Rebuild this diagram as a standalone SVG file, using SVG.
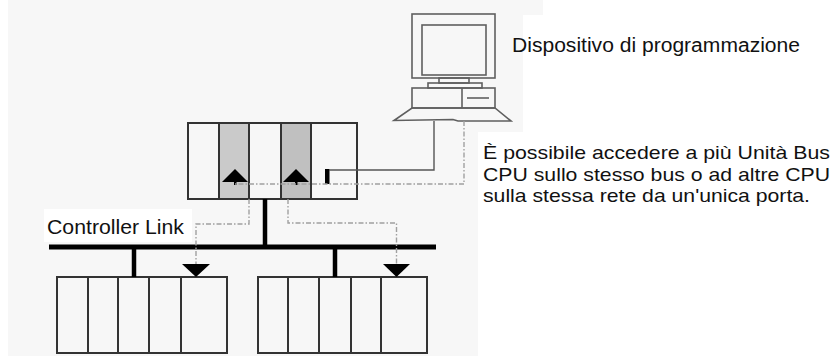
<svg xmlns="http://www.w3.org/2000/svg" width="832" height="361" viewBox="0 0 832 361">
  <style>
    .txt { font-family: "Liberation Sans", Arial, sans-serif; font-size: 20px; fill: #111; }
    .note { font-family: "Liberation Sans", Arial, sans-serif; font-size: 19px; fill: #111; }
    .pc { fill: none; stroke: #5f5f5f; stroke-width: 1.6; }
    .rack { fill: none; stroke: #333; stroke-width: 2; }
    .slot { stroke: #333; stroke-width: 2; }
    .solid { fill: none; stroke: #555; stroke-width: 1.4; }
    .dash { fill: none; stroke: #a0a0a0; stroke-width: 1.4; stroke-dasharray: 5 2 1.5 2; }
    .bus { fill: none; stroke: #000; stroke-width: 5; }
    .drop { fill: none; stroke: #000; stroke-width: 4.5; }
    .arrow { fill: #000; }
  </style>

  <!-- paper -->
  <rect x="0" y="0" width="832" height="361" fill="#ffffff"/>
  <g id="backdrop" fill="#f7f7f7">
    <rect x="8" y="0" width="535" height="15"/>
    <rect x="8" y="15" width="515" height="117"/>
    <rect x="8" y="132" width="470" height="224"/>
  </g>

  <!-- programming device (PC) -->
  <g id="pc">
    <rect class="pc" x="412" y="14" width="83" height="64"/>
    <rect class="pc" x="422" y="25" width="64" height="50"/>
    <rect class="pc" x="439" y="78" width="30" height="5"/>
    <rect class="pc" x="428" y="83" width="54" height="5" stroke="#333" stroke-width="1.8"/>
    <rect class="pc" x="412" y="88" width="83" height="20"/>
    <line class="pc" x1="462" y1="88" x2="462" y2="108"/>
    <line class="pc" x1="467" y1="98" x2="489" y2="98"/>
    <path class="pc" d="M412,108 L495,108 L511,121 L458,121 L453,119.5 L394,120.5 Z"/>
  </g>

  <!-- CPU rack with two Bus Units -->
  <g id="cpu-rack">
    <rect x="219" y="123" width="30" height="76" fill="#cacaca"/>
    <rect x="281" y="123" width="30" height="76" fill="#c0c0c0"/>
    <rect class="rack" x="188" y="123" width="169" height="76"/>
    <line class="slot" x1="219" y1="123" x2="219" y2="199"/>
    <line class="slot" x1="249" y1="123" x2="249" y2="199"/>
    <line class="slot" x1="281" y1="123" x2="281" y2="199"/>
    <line class="slot" x1="311" y1="123" x2="311" y2="199"/>
    <polygon class="arrow" points="222,182 248,182 235,169"/>
    <rect class="arrow" x="234" y="181" width="2.5" height="4"/>
    <polygon class="arrow" points="283,182 309,182 296,169"/>
    <rect class="arrow" x="295" y="181" width="2.5" height="4"/>
    <rect class="arrow" x="325" y="169" width="4.5" height="15"/>
  </g>

  <!-- remote racks -->
  <g id="rack-left">
    <rect class="rack" x="57" y="277" width="170" height="76"/>
    <line class="slot" x1="88" y1="277" x2="88" y2="353"/>
    <line class="slot" x1="118" y1="277" x2="118" y2="353"/>
    <line class="slot" x1="149" y1="277" x2="149" y2="353"/>
    <line class="slot" x1="181" y1="277" x2="181" y2="353"/>
  </g>
  <g id="rack-right">
    <rect class="rack" x="258" y="277" width="169" height="76"/>
    <line class="slot" x1="288" y1="277" x2="288" y2="353"/>
    <line class="slot" x1="319" y1="277" x2="319" y2="353"/>
    <line class="slot" x1="351" y1="277" x2="351" y2="353"/>
    <line class="slot" x1="381" y1="277" x2="381" y2="353"/>
  </g>

  <!-- network label -->
  <g id="label-controller-link">
    <rect x="44" y="209" width="148" height="33" fill="#ffffff"/>
    <text class="txt" x="47" y="234" textLength="137" lengthAdjust="spacingAndGlyphs">Controller Link</text>
  </g>

  <!-- connectors -->
  <g id="connectors">
    <!-- peripheral cable and access path -->
    <path class="solid" d="M434,121 L434,170 L329,170"/>
    <path class="dash" d="M464,121 L464,184 L235,184"/>
    <!-- Controller Link bus -->
    <line class="bus" x1="49" y1="247" x2="436" y2="247"/>
    <line class="drop" x1="265" y1="199" x2="265" y2="247"/>
    <line class="drop" x1="134" y1="247" x2="134" y2="277"/>
    <line class="drop" x1="335" y1="247" x2="335" y2="277"/>
    <!-- routed access to remote CPUs -->
    <path class="dash" d="M249,199 L249,224 L196,224 L196,265"/>
    <path class="dash" d="M288,199 L288,223 L396.5,223 L396.5,265"/>
    <polygon class="arrow" points="182,264 210,264 196,277"/>
    <polygon class="arrow" points="383,264 410,264 396.5,277"/>
  </g>

  <!-- captions -->
  <g id="captions">
    <text class="txt" x="512" y="52" textLength="288" lengthAdjust="spacingAndGlyphs">Dispositivo di programmazione</text>
    <text class="note" x="483" y="159" textLength="347" lengthAdjust="spacingAndGlyphs">È possibile accedere a più Unità Bus</text>
    <text class="note" x="483" y="180.5" textLength="347" lengthAdjust="spacingAndGlyphs">CPU sullo stesso bus o ad altre CPU</text>
    <text class="note" x="483" y="202" textLength="327" lengthAdjust="spacingAndGlyphs">sulla stessa rete da un'unica porta.</text>
  </g>
</svg>
